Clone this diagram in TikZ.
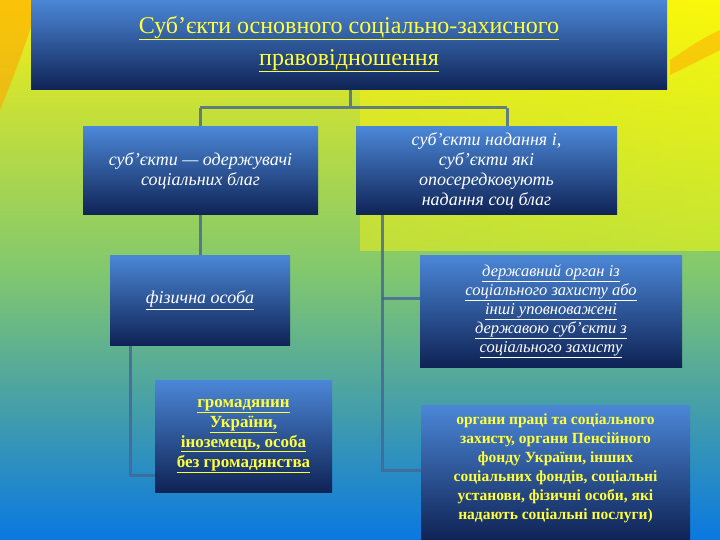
\documentclass[tikz,border=0pt]{standalone}
\usepackage{fontspec}
\setmainfont{Liberation Serif}
\definecolor{btop}{RGB}{75,135,215}
\definecolor{bbot}{RGB}{15,35,85}
\definecolor{ln}{RGB}{70,100,150}
\definecolor{ylw}{RGB}{255,255,60}
\definecolor{bgtop}{RGB}{245,240,20}
\definecolor{bgmid}{RGB}{130,200,110}
\definecolor{bgbot}{RGB}{10,120,225}
\newcommand{\ul}[1]{\underline{#1}}
\tikzset{
 box/.style={draw=none,inner sep=2pt,align=center,text=white,font=\itshape\fontsize{18}{20}\selectfont},
 conn/.style={draw=ln,line width=3pt,opacity=0.8},
}
\begin{document}
\begin{tikzpicture}[x=1pt,y=-1pt]
\useasboundingbox (0,0) rectangle (720,540);
\shade[top color=bgtop,bottom color=bgbot,middle color=bgmid] (0,0) rectangle (720,540);
\shade[left color=bgbot!0!bgtop, right color=yellow, opacity=0.5] (360,0) rectangle (720,250);
\fill[orange!70!yellow,opacity=0.6] (0,0) -- (40,0) .. controls (20,60) .. (0,110) -- cycle;
\fill[orange!70!yellow,opacity=0.5] (670,60) .. controls (700,40) .. (720,30) -- (720,50) .. controls (700,60) .. (670,75) -- cycle;
% connectors
\coordinate (t) at (350,90);
\coordinate (hb) at (350,108);
\coordinate (hl) at (200,108);
\coordinate (hr) at (507,108);
\draw[conn] (t) -- (hb) (hl) -- (hr) (hl) -- (200,127) (hr) -- (507,127);
\draw[conn] (200,215) -- (200,255);
\draw[conn] (130,345) -- (130,475) -- (155,475);
\draw[conn] (382,215) -- (382,470) -- (421,470);
\draw[conn] (382,298) -- (420,298);
% boxes
\shade[top color=btop,bottom color=bbot] (31,0) rectangle (667,90);
\node[align=center,text=ylw,font=\fontsize{24}{32}\selectfont] (title) at (349,44) {\ul{Суб’єкти основного соціально-захисного}\\\ul{правовідношення}};
\shade[top color=btop,bottom color=bbot] (83,127) rectangle (318,215);
\node[box] (a) at (200.5,171) {суб’єкти — одержувачі\\соціальних благ};
\shade[top color=btop,bottom color=bbot] (356,127) rectangle (617,215);
\node[box] (b) at (486.5,171) {суб’єкти надання і,\\суб’єкти які\\опосередковують\\надання соц благ};
\shade[top color=btop,bottom color=bbot] (110,255) rectangle (290,345);
\node[box] (c) at (200,300) {\ul{фізична особа}};
\shade[top color=btop,bottom color=bbot] (155,380) rectangle (332,492);
\node[box,font=\bfseries\fontsize{17}{20}\selectfont,text=ylw] (d) at (243.5,436) {\ul{громадянин}\\\ul{України,}\\\ul{іноземець, особа}\\\ul{без громадянства}};
\shade[top color=btop,bottom color=bbot] (420,255) rectangle (682,367);
\node[box,font=\itshape\fontsize{16.5}{19}\selectfont] (e) at (551,311) {\ul{державний орган із}\\\ul{соціального захисту або}\\\ul{інші уповноважені}\\\ul{державою суб’єкти з}\\\ul{соціального захисту}};
\shade[top color=btop,bottom color=bbot] (421,405) rectangle (690,540);
\node[box,font=\bfseries\fontsize{15.5}{19}\selectfont,text=ylw] (f) at (555.5,468) {органи праці та соціального\\захисту, органи Пенсійного\\фонду України, інших\\соціальних фондів, соціальні\\установи, фізичні особи, які\\надають соціальні послуги)};
\end{tikzpicture}
\end{document}
